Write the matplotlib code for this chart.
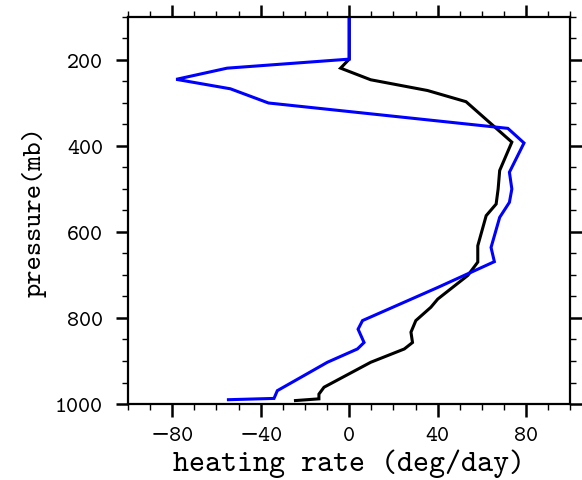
import matplotlib
matplotlib.use("Agg")
import matplotlib.pyplot as plt
from matplotlib.ticker import MultipleLocator

# Black profile
black_p = [100, 198, 219, 246, 271, 297, 391, 457, 500, 535, 562, 632, 670, 701, 756, 775,
           806, 833, 857, 872, 903, 961, 977, 988, 992]
black_x = [0, 0, -3.9, 9.7, 35.4, 52.8, 73.5, 68.0, 67.3, 66.4, 61.9, 58.1, 58.1, 53.6, 40.0, 36.9,
           30.1, 27.9, 28.6, 24.9, 9.7, -11.4, -13.7, -13.7, -24.3]

# Blue profile
blue_p = [100, 198, 219, 245, 267, 300, 359, 393, 461, 500, 531, 566, 636, 669, 729, 806,
          826, 857, 872, 903, 934, 969, 987, 990]
blue_x = [0, 0, -55.2, -78.2, -53.7, -36.5, 71.7, 79.0, 72.4, 73.5, 72.4, 68.0, 64.1, 65.6, 40.0, 6.0,
          4.0, 6.7, 3.7, -9.9, -20.5, -32.5, -34.0, -54.6]

xticks = [-80, -40, 0, 40, 80]
yticks = [200, 400, 600, 800, 1000]

plt.rcParams['font.family'] = ['cmtt10', 'DejaVu Serif']
plt.rcParams['axes.unicode_minus'] = True

fig = plt.figure(figsize=(5.82, 4.81), dpi=100)
ax = fig.add_axes([0.2199, 0.158, 0.7603, 0.8046])

ax.plot(black_x, black_p, color='black', lw=2.2, solid_joinstyle='miter')
ax.plot(blue_x, blue_p, color='#0000ff', lw=2.2, solid_joinstyle='miter')

ax.set_xlim(-100, 100)
ax.set_ylim(1000, 100)
ax.set_xticks(xticks)
ax.set_xticklabels(['\u221280', '\u221240', '0', '40', '80'])
ax.set_yticks(yticks)
ax.set_yticklabels([str(v) for v in yticks])
ax.xaxis.set_minor_locator(MultipleLocator(10))
ax.yaxis.set_minor_locator(MultipleLocator(50))

for s in ax.spines.values():
    s.set_linewidth(1.6)

ax.tick_params(which='major', direction='out', length=9, width=1.8, labelsize=16.5,
               top=True, right=True, pad=7)
ax.tick_params(which='minor', direction='out', length=4.5, width=1.0, top=True, right=True)
ax.tick_params(axis='y', which='major', pad=9)

ax.set_xlabel('heating rate (deg/day)', fontsize=22, labelpad=2)
ax.set_ylabel('pressure(mb)', fontsize=19.5, labelpad=6)

fig.savefig('out.png', dpi=100)
